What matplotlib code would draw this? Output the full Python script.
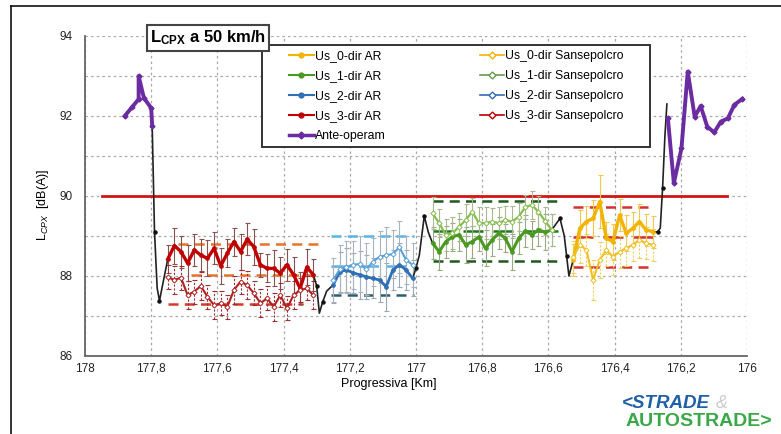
import matplotlib
matplotlib.use('Agg')
import matplotlib.pyplot as plt
from matplotlib.lines import Line2D
from matplotlib.patches import Rectangle

plt.rcParams['font.family'] = ['Liberation Sans', 'DejaVu Sans']
plt.rcParams['mathtext.fontset'] = 'custom'
plt.rcParams['mathtext.rm'] = 'Liberation Sans'
plt.rcParams['mathtext.it'] = 'Liberation Sans:italic'
plt.rcParams['mathtext.bf'] = 'Liberation Sans:bold'

# ---- data ----
ante_left_km = [177.88, 177.858, 177.838, 177.838, 177.822, 177.80, 177.797]
ante_left = [92.0, 92.22, 92.42, 93.0, 92.45, 92.2, 91.75]
ante_right_km = [176.239, 176.221, 176.198, 176.179, 176.158, 176.140, 176.120,
                 176.099, 176.079, 176.058, 176.038, 176.014]
ante_right = [91.94, 90.32, 91.19, 93.11, 91.98, 92.25, 91.73, 91.59, 91.86, 91.94, 92.28, 92.43]

# Us_3 (red)
us3_km = [177.75, 177.73, 177.71, 177.69, 177.67, 177.65, 177.63, 177.61, 177.59, 177.57, 177.55, 177.53,
          177.51, 177.49, 177.47, 177.45, 177.43, 177.41, 177.39, 177.37, 177.35, 177.33, 177.31]
us3_ar = [88.42, 88.76, 88.61, 88.32, 88.65, 88.52, 88.44, 88.69, 88.25, 88.57, 88.86, 88.61,
          88.92, 88.73, 88.28, 88.19, 88.19, 88.07, 88.28, 88.03, 87.69, 88.22, 88.03]
us3_ar_err = [0.35, 0.45, 0.4, 0.45, 0.4, 0.4, 0.45, 0.4, 0.45, 0.35, 0.35, 0.45,
              0.4, 0.45, 0.3, 0.35, 0.45, 0.4, 0.4, 0.45, 0.4, 0.45, 0.4]
us3_sp = [87.97, 87.9, 87.96, 87.52, 87.61, 87.75, 87.48, 87.27, 87.32, 87.23, 87.65, 87.86,
          87.77, 87.57, 87.32, 87.44, 87.23, 87.52, 87.19, 87.52, 87.65, 87.69, 87.52]
us3_sp_err = [0.3, 0.35, 0.3, 0.35, 0.3, 0.35, 0.3, 0.35, 0.3, 0.3, 0.35, 0.3,
              0.35, 0.3, 0.35, 0.3, 0.35, 0.3, 0.3, 0.35, 0.3, 0.3, 0.35]

# Us_2 (blue)
us2_km = [177.25, 177.23, 177.21, 177.19, 177.17, 177.15, 177.13, 177.11, 177.09, 177.07, 177.05, 177.03, 177.01]
us2_ar = [87.78, 88.11, 88.15, 88.08, 88.03, 87.98, 87.94, 87.9, 87.73, 88.15, 88.28, 88.15, 87.94]
us2_ar_err = [0.45, 0.5, 0.55, 0.5, 0.6, 0.55, 0.5, 0.55, 0.6, 0.5, 0.55, 0.5, 0.45]
us2_sp = [87.9, 88.17, 88.22, 88.28, 88.3, 88.17, 88.36, 88.48, 88.52, 88.55, 88.72, 88.4, 88.28]
us2_sp_err = [0.55, 0.6, 0.65, 0.6, 0.7, 0.65, 0.6, 0.65, 0.7, 0.6, 0.65, 0.6, 0.55]

# Us_1 (green)
us1_km = [176.95, 176.93, 176.91, 176.89, 176.87, 176.85, 176.83, 176.81, 176.79, 176.77,
          176.75, 176.73, 176.71, 176.69, 176.67, 176.65, 176.63, 176.61, 176.59]
us1_ar = [88.82, 88.61, 88.86, 88.98, 89.03, 88.78, 88.86, 88.98, 88.69, 88.9,
          89.07, 88.94, 88.61, 88.94, 89.12, 89.03, 89.15, 89.1, 89.15]
us1_ar_err = [0.4, 0.45, 0.4, 0.35, 0.4, 0.45, 0.4, 0.35, 0.45, 0.4,
              0.4, 0.35, 0.45, 0.4, 0.4, 0.35, 0.4, 0.45, 0.4]
us1_sp = [89.57, 89.32, 89.03, 89.07, 89.23, 89.4, 89.61, 89.32, 89.32, 89.36,
          89.32, 89.4, 89.36, 89.48, 89.72, 89.78, 89.6, 89.38, 89.15]
us1_sp_err = [0.4, 0.35, 0.4, 0.4, 0.35, 0.4, 0.35, 0.4, 0.4, 0.35,
              0.4, 0.35, 0.4, 0.35, 0.3, 0.35, 0.4, 0.35, 0.4]

# Us_0 (yellow)
us0_km = [176.525, 176.505, 176.485, 176.465, 176.445, 176.425, 176.405,
          176.385, 176.365, 176.345, 176.325, 176.305, 176.285]
us0_ar = [88.4, 89.19, 89.36, 89.44, 89.86, 88.94, 88.86, 89.52, 89.07, 89.19, 89.36, 89.15, 89.11]
us0_ar_err = [0.4, 0.45, 0.4, 0.45, 0.66, 0.4, 0.45, 0.4, 0.45, 0.4, 0.45, 0.4, 0.4]
us0_sp = [88.48, 88.78, 88.65, 87.9, 88.4, 88.65, 88.48, 88.61, 88.69, 88.78, 88.9, 88.82, 88.78]
us0_sp_err = [0.4, 0.45, 0.4, 0.5, 0.45, 0.4, 0.45, 0.4, 0.45, 0.4, 0.45, 0.4, 0.4]

# dashed reference bands: (km start, km end, level)
us3_bands = [(177.72, 177.29, 88.79), (177.68, 177.30, 88.03), (177.75, 177.34, 87.29)]
us2_bands = [(177.256, 177.005, 89.0), (177.256, 177.005, 88.25), (177.256, 177.005, 87.52)]
us1_bands = [(176.95, 176.57, 89.88), (176.95, 176.57, 89.13), (176.95, 176.57, 88.38)]
us0_bands = [(176.525, 176.285, 89.72), (176.525, 176.285, 88.98), (176.525, 176.285, 88.23)]

# black transition curves
conn_km = [
    [177.797, 177.79, 177.782, 177.775, 177.765, 177.75],
    [177.31, 177.30, 177.292, 177.282, 177.27, 177.25],
    [177.01, 177.0, 176.99, 176.975, 176.963, 176.95],
    [176.59, 176.565, 176.552, 176.545, 176.538, 176.525],
    [176.285, 176.27, 176.262, 176.255, 176.248, 176.242],
]
conn_val = [
    [91.75, 89.1, 87.7, 87.38, 87.8, 88.42],
    [88.03, 87.75, 87.07, 87.35, 87.62, 87.78],
    [87.94, 88.2, 88.52, 89.5, 89.1, 88.82],
    [89.15, 89.44, 89.0, 88.5, 88.0, 88.4],
    [89.11, 89.1, 89.2, 90.2, 91.5, 92.3],
]

limit_km = [177.95, 176.06]
limit_val = 90

xticks = [178, 177.8, 177.6, 177.4, 177.2, 177, 176.8, 176.6, 176.4, 176.2, 176]
xticklabels = ['178', '177,8', '177,6', '177,4', '177,2', '177', '176,8', '176,6', '176,4', '176,2', '176']

# ---- figure ----
W, H = 781, 434
fig = plt.figure(figsize=(W / 100, H / 100), dpi=100)
ax = fig.add_axes([85 / W, 1 - 356 / H, (747 - 85) / W, 320 / H])
ax.set_xlim(178, 176)
ax.set_ylim(86, 94)

ax.set_xticks(xticks)
ax.set_xticklabels(xticklabels)
ax.set_yticks([86, 88, 90, 92, 94])
ax.set_yticks([87, 89, 91, 93], minor=True)
ax.grid(True, which='both', color='#a8a8a8', linestyle=(0, (2, 2.5)), linewidth=0.9)
ax.tick_params(which='both', length=0)
ax.tick_params(axis='y', pad=9, labelsize=8.5, colors='#222222')
ax.tick_params(axis='x', pad=5, labelsize=8.5, colors='#222222')
for s in ['top', 'right']:
    ax.spines[s].set_visible(False)
for s in ['left', 'bottom']:
    ax.spines[s].set_color('#666666')
    ax.spines[s].set_linewidth(1.3)
ax.set_axisbelow(True)

# limit line
ax.plot(limit_km, [limit_val, limit_val], color='#d41414', lw=2, zorder=2)


def band(bands, colors, styles):
    for (a, b, v), c, st in zip(bands, colors, styles):
        ax.plot([a, b], [v, v], color=c, lw=1.8, ls=st, zorder=3)


band(us3_bands, ['#e8732a', '#e8732a', '#d83a2a'], [(0, (4, 2.5))] * 3)
band(us2_bands, ['#5ab4e6', '#5ab4e6', '#2e5e6e'], [(0, (4, 2.5)), (0, (8, 3)), (0, (4, 2.5))])
band(us1_bands, ['#1e5a1e', '#1e7a1e', '#1e5a1e'], [(0, (4, 2.5)), (0, (8, 4)), (0, (4, 2.5))])
band(us0_bands, ['#d83030', '#d83030', '#d83030'], [(0, (4, 2.5)), (0, (8, 4)), (0, (4, 2.5))])


def series(km, vals, err, color, ecolor, lw, marker, mfc, dashed_err):
    eb = ax.errorbar(km, vals, yerr=err, fmt='none', ecolor=ecolor, elinewidth=0.8,
                     capsize=1.8, capthick=0.8, zorder=4)
    if dashed_err:
        eb[2][0].set_linestyle((0, (2, 1.5)))
    ax.plot(km, vals, color=color, lw=lw, marker=marker, ms=2.6, mfc=mfc, mec=color,
            mew=0.7, zorder=5)


series(us3_km, us3_ar, us3_ar_err, '#c00000', '#8a5050', 2.4, 'o', '#c00000', False)
series(us3_km, us3_sp, us3_sp_err, '#b02020', '#9a3030', 1.5, 'D', 'white', True)
series(us2_km, us2_ar, us2_ar_err, '#2f6fb5', '#9aa8b8', 2.0, 'o', '#2f6fb5', False)
series(us2_km, us2_sp, us2_sp_err, '#5aa0dc', '#a8b4c0', 1.5, 'D', 'white', False)
series(us1_km, us1_ar, us1_ar_err, '#4a9a22', '#9aaa80', 2.2, 'o', '#4a9a22', False)
series(us1_km, us1_sp, us1_sp_err, '#86be4e', '#a8b890', 1.6, 'D', 'white', False)
series(us0_km, us0_ar, us0_ar_err, '#f2b400', '#f2c84a', 2.4, 'o', '#f2b400', False)
series(us0_km, us0_sp, us0_sp_err, '#f0c020', '#f2d060', 1.5, 'D', 'white', True)

for k, v in zip(conn_km, conn_val):
    ax.plot(k, v, color='#222222', lw=1.2, zorder=4)
    ax.plot(k[1:-1:2], v[1:-1:2], 'o', color='#111111', ms=2.2, zorder=4)

ax.plot(ante_left_km, ante_left, color='#6a2ca0', lw=2.8, marker='D', ms=2.5, zorder=6)
ax.plot(ante_right_km, ante_right, color='#6a2ca0', lw=2.8, marker='D', ms=2.5, zorder=6)

# legend (frame drawn separately so it can be wider than the entries)
fig.add_artist(Rectangle((262 / W, 1 - 147 / H), (650 - 262) / W, (147 - 45) / H,
                         transform=fig.transFigure, fc='white', ec='#333333', lw=1.4, zorder=5))


def h(color, marker, mfc, lw):
    return Line2D([], [], color=color, lw=lw, marker=marker, ms=3.5, mfc=mfc, mec=color)


handles = [h('#f2b400', 'o', '#f2b400', 1.5), h('#4a9a22', 'o', '#4a9a22', 1.5),
           h('#2f6fb5', 'o', '#2f6fb5', 1.5), h('#c00000', 'o', '#c00000', 1.5),
           h('#6a2ca0', 'D', '#6a2ca0', 2.5),
           h('#f2b400', 'D', 'white', 1.2), h('#6a9a4a', 'D', 'white', 1.2),
           h('#2f6fb5', 'D', 'white', 1.2), h('#c00000', 'D', 'white', 1.2)]
labels = ['Us_0-dir AR', 'Us_1-dir AR', 'Us_2-dir AR', 'Us_3-dir AR', 'Ante-operam',
          'Us_0-dir Sansepolcro', 'Us_1-dir Sansepolcro', 'Us_2-dir Sansepolcro', 'Us_3-dir Sansepolcro']
leg = fig.legend(handles, labels, ncol=2, loc='upper left', bbox_to_anchor=(283 / W, 1 - 44 / H),
                 fontsize=8.8, frameon=False, handlelength=2.0, handletextpad=0.1,
                 columnspacing=7.7, labelspacing=0.65, borderpad=0.5, borderaxespad=0)
leg.set_zorder(6)

# title box
fig.text(208 / W, 1 - 38 / H, r'L$_{\mathbf{CPX}}$ a 50 km/h', fontsize=12, fontweight='bold',
         ha='center', va='center', zorder=11,
         bbox=dict(boxstyle='square,pad=0.2', fc='white', ec='#444444', lw=1.5))

fig.text(43 / W, 1 - 205 / H, r'L$_{CPX}$  [dB(A)]', rotation=90, fontsize=9,
         ha='center', va='center')
fig.text(389 / W, 1 - 384 / H, 'Progressiva [Km]', fontsize=9, ha='center', va='center')

# logo
fig.text(622 / W, 1 - 404 / H, '<STRADE', fontsize=13.5, fontweight='bold', style='italic',
         color='#1f5fa6', ha='left', va='center')
fig.text(716 / W, 1 - 404 / H, '&', fontsize=13, color='#cccccc', style='italic',
         ha='left', va='center')
fig.text(626 / W, 1 - 422 / H, 'AUTOSTRADE>', fontsize=14, fontweight='bold',
         color='#3aa848', family=['Liberation Sans Narrow', 'Liberation Sans'],
         ha='left', va='center')

# outer frame lines
fig.add_artist(Line2D([11 / W, 11 / W], [0, 1 - 6 / H], transform=fig.transFigure, color='#111111', lw=1.2))
fig.add_artist(Line2D([11 / W, 1], [1 - 6 / H, 1 - 6 / H], transform=fig.transFigure, color='#111111', lw=1.2))

fig.savefig('out.png', dpi=100)
